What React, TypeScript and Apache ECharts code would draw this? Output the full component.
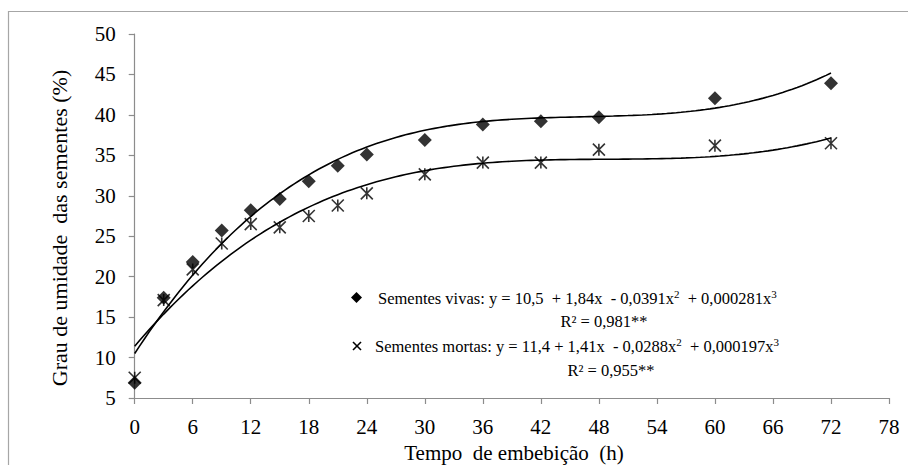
import React, { useEffect, useRef } from "react";
import * as echarts from "echarts";

// Tempo de embebição (h) at which the seeds were weighed
const horas = [0, 3, 6, 9, 12, 15, 18, 21, 24, 30, 36, 42, 48, 60, 72];
// Grau de umidade (%) – sementes vivas
const umidadeVivas = [6.9, 17.4, 21.8, 25.7, 28.2, 29.6, 31.8, 33.7, 35.1, 36.9, 38.8, 39.2, 39.7, 42.05, 43.9];
// Grau de umidade (%) – sementes mortas
const umidadeMortas = [7.5, 17.1, 20.9, 24.1, 26.5, 26.1, 27.5, 28.8, 30.3, 32.65, 34.1, 34.1, 35.7, 36.2, 36.5];

// Cubic regression coefficients (b0, b1, b2, b3) stated in the legend
const coefVivas = [10.5, 1.84, -0.0391, 0.000281];
const coefMortas = [11.4, 1.41, -0.0288, 0.000197];
const ajusteInicio = 0;
const ajusteFim = 72;

const serif = "Liberation Serif";

const curve = (c: number[]) => {
  const pts: number[][] = [];
  for (let x = ajusteInicio; x <= ajusteFim; x += 0.5) {
    pts.push([x, c[0] + c[1] * x + c[2] * x * x + c[3] * x * x * x]);
  }
  return pts;
};

const ASTERISK = "path://M0,0 L10,10 M10,0 L0,10 M5,0 L5,10";

export default function App() {
  const ref = useRef<HTMLDivElement>(null);

  useEffect(() => {
    if (!ref.current) return;
    const chart = echarts.init(ref.current, null, { renderer: "svg" });
    const legendRich = {
      t: { fontSize: 16.5, fontFamily: serif, color: "#000", lineHeight: 19 },
      s: { fontSize: 11, fontFamily: serif, color: "#000", lineHeight: 11, verticalAlign: "top" },
    };
    chart.setOption({
      animation: false,
      backgroundColor: "#fff",
      grid: { left: 134.7, right: 19, top: 34, bottom: 67, containLabel: false },
      xAxis: {
        type: "value",
        min: 0,
        max: 78,
        interval: 6,
        axisLine: { show: true, onZero: false, lineStyle: { color: "#8c8c8c", width: 1.2 } },
        axisTick: { show: true, inside: false, length: 6, lineStyle: { color: "#8c8c8c", width: 1.2 } },
        axisLabel: { color: "#000", fontSize: 21, fontFamily: serif, margin: 18 },
        splitLine: { show: false },
      },
      yAxis: {
        type: "value",
        min: 5,
        max: 50,
        interval: 5,
        axisLine: { show: true, lineStyle: { color: "#8c8c8c", width: 1.2 } },
        axisTick: { show: true, inside: false, length: 6, lineStyle: { color: "#8c8c8c", width: 1.2 } },
        axisLabel: { color: "#000", fontSize: 21, fontFamily: serif, margin: 19 },
        splitLine: { show: false },
      },
      series: [
        {
          name: "Ajuste vivas",
          type: "line",
          data: curve(coefVivas),
          showSymbol: false,
          smooth: false,
          lineStyle: { color: "#000", width: 1.6 },
          z: 2,
        },
        {
          name: "Ajuste mortas",
          type: "line",
          data: curve(coefMortas),
          showSymbol: false,
          smooth: false,
          lineStyle: { color: "#000", width: 1.6 },
          z: 2,
        },
        {
          name: "Sementes mortas",
          type: "scatter",
          data: horas.map((h, i) => [h, umidadeMortas[i]]),
          symbol: ASTERISK,
          symbolSize: 12,
          itemStyle: { color: "none", borderColor: "#000", borderWidth: 1.6 },
          z: 3,
        },
        {
          name: "Sementes vivas",
          type: "scatter",
          data: horas.map((h, i) => [h, umidadeVivas[i]]),
          symbol: "diamond",
          symbolSize: 14,
          itemStyle: { color: "#000" },
          z: 4,
        },
      ],
      graphic: [
        {
          type: "rect",
          shape: { x: 8.5, y: 11.5, width: 1200, height: 1000 },
          style: { fill: "none", stroke: "#a6a6a6", lineWidth: 1.2 },
          silent: true,
        },
        {
          type: "text",
          x: 59,
          y: 228,
          rotation: Math.PI / 2,
          style: {
            text: "Grau de umidade  das sementes (%)",
            fontSize: 22,
            fontFamily: serif,
            fill: "#000",
            align: "center",
            verticalAlign: "middle",
          },
        },
        {
          type: "text",
          x: 514,
          y: 453,
          style: {
            text: "Tempo  de embebição  (h)",
            fontSize: 21,
            fontFamily: serif,
            fill: "#000",
            align: "center",
            verticalAlign: "middle",
          },
        },
        // legend: sementes vivas
        {
          type: "polygon",
          shape: { points: [[356.5, 292], [362, 297.5], [356.5, 303], [351, 297.5]] },
          style: { fill: "#000" },
        },
        {
          type: "text",
          x: 378,
          y: 298,
          style: {
            text: "{t|Sementes vivas: y = 10,5  + 1,84x  - 0,0391x}{s|2}{t|  + 0,000281x}{s|3}",
            rich: legendRich,
            verticalAlign: "middle",
          },
        },
        {
          type: "text",
          x: 604,
          y: 321,
          style: {
            text: "{t|R² = 0,981**}",
            rich: legendRich,
            align: "center",
            verticalAlign: "middle",
          },
        },
        // legend: sementes mortas
        {
          type: "polyline",
          shape: { points: [[353, 342], [361, 350]] },
          style: { stroke: "#000", lineWidth: 1.6 },
        },
        {
          type: "polyline",
          shape: { points: [[361, 342], [353, 350]] },
          style: { stroke: "#000", lineWidth: 1.6 },
        },
        {
          type: "text",
          x: 375,
          y: 346,
          style: {
            text: "{t|Sementes mortas: y = 11,4 + 1,41x  - 0,0288x}{s|2}{t|  + 0,000197x}{s|3}",
            rich: legendRich,
            verticalAlign: "middle",
          },
        },
        {
          type: "text",
          x: 611,
          y: 370,
          style: {
            text: "{t|R² = 0,955**}",
            rich: legendRich,
            align: "center",
            verticalAlign: "middle",
          },
        },
      ],
    });
    return () => chart.dispose();
  }, []);

  return (
    <div
      ref={ref}
      style={{ position: "fixed", left: 0, top: 0, width: 908, height: 465, background: "#fff" }}
    />
  );
}
